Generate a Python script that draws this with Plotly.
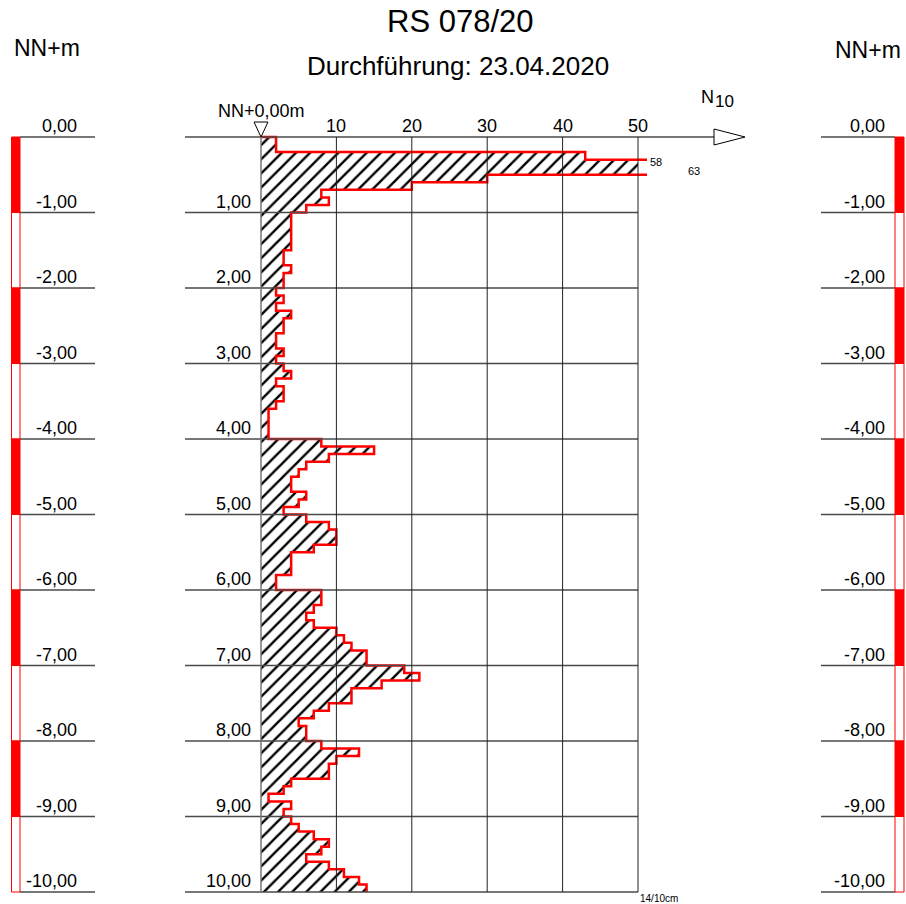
import plotly.graph_objects as go

# Dynamic probing RS 078/20 – blow counts N10 per 10 cm penetration
n10 = [2, 2, 43, 58, 63, 30, 20, 8, 9, 6,
       4, 4, 4, 4, 4, 3, 3, 4, 3, 3,
       2, 3, 2, 4, 3, 3, 2, 2, 3, 2,
       3, 4, 2, 3, 3, 2, 1, 1, 1, 1,
       8, 15, 9, 6, 5, 4, 4, 6, 5, 3,
       6, 9, 10, 10, 7, 4, 4, 4, 2, 2,
       8, 8, 7, 6, 7, 10, 11, 12, 14, 14,
       19, 21, 16, 12, 12, 9, 7, 5, 6, 6,
       8, 13, 10, 9, 9, 4, 3, 1, 4, 3,
       4, 5, 7, 9, 8, 6, 9, 11, 13, 14]
step_m = 0.1                      # depth increment per value
depth_levels = list(range(0, 11))  # metre lines 0 … 10
n10_ticks = [10, 20, 30, 40, 50]
n10_cap = 50                      # right edge of the diagram
ground_level = 0.0                # NN + m at the start point
title_text = "RS 078/20"
subtitle_text = "Durchführung: 23.04.2020"

W, H = 906, 904
FONT = "Liberation Sans, Arial, Helvetica, sans-serif"
RED = "#ff0000"
GRID = "#4a4a4a"

# scale of the main diagram (pixels per unit)
X0_PX, PX_PER_N = 261.0, 7.54
Y0_PX, PX_PER_M = 137.0, 75.5


def hx(px):
    return (px - X0_PX) / PX_PER_N


def hy(py):
    return (py - Y0_PX) / PX_PER_M


def fmt(v):
    return f"{v:.2f}".replace(".", ",")


over = hx(647)  # overshoot of clipped values beyond the cap

# ---- polygon for the hatched area and the red outline -------------------
fill_x, fill_y = [0.0], [0.0]
line_x, line_y = [0.0], [0.0]
clipped = []
prev_clip = False
for i, v in enumerate(n10):
    top, bot = i * step_m, (i + 1) * step_m
    xv = min(v, n10_cap)
    fill_x += [xv, xv]
    fill_y += [top, bot]
    if v > n10_cap:
        clipped.append((i, v))
        if not prev_clip:
            line_x += [over, None]
            line_y += [top, None]
        prev_clip = True
        continue
    if prev_clip:
        line_x += [over, v]
        line_y += [top, top]
        prev_clip = False
    else:
        line_x.append(v)
        line_y.append(top)
    line_x.append(v)
    line_y.append(bot)
fill_x += [0.0, 0.0]
fill_y += [len(n10) * step_m, 0.0]

fig = go.Figure()
fig.add_trace(go.Scatter(
    x=fill_x, y=fill_y, mode="lines", fill="toself",
    line=dict(width=0, color="rgba(0,0,0,0)"),
    fillcolor="white",
    fillpattern=dict(shape="/", size=10, solidity=0.24,
                     fgcolor="black", bgcolor="white", fgopacity=1),
    hoverinfo="skip", showlegend=False, xaxis="x", yaxis="y"))
fig.add_trace(go.Scatter(
    x=line_x, y=line_y, mode="lines",
    line=dict(color=RED, width=2.5, shape="linear"),
    connectgaps=False, hoverinfo="skip", showlegend=False,
    xaxis="x", yaxis="y"))

shapes = []
ann = []

# main diagram grid
shapes.append(dict(type="line", xref="x", yref="y", x0=hx(185), x1=hx(714),
                   y0=0, y1=0, line=dict(color=GRID, width=1.5)))
shapes.append(dict(type="path", xref="x", yref="y",
                   path=f"M {hx(714)},{hy(129)} L {hx(745)},0 L {hx(714)},{hy(145)} Z",
                   fillcolor="white", line=dict(color="black", width=1)))
for d in depth_levels[1:]:
    shapes.append(dict(type="line", xref="x", yref="y", x0=hx(185), x1=n10_cap,
                       y0=d, y1=d, line=dict(color=GRID, width=1.5)))
shapes.append(dict(type="line", xref="x", yref="y", x0=0, x1=0,
                   y0=0, y1=depth_levels[-1], line=dict(color="#777777", width=1.5)))
for t in n10_ticks:
    shapes.append(dict(type="line", xref="x", yref="y", x0=t, x1=t,
                       y0=0, y1=depth_levels[-1], line=dict(color="#222222", width=1)))
    ann.append(dict(x=t, y=0, xref="x", yref="y", text=str(t), showarrow=False,
                    xanchor="center", yanchor="bottom", yshift=-1,
                    font=dict(size=18, color="black", family=FONT)))
for d in depth_levels[1:]:
    ann.append(dict(x=hx(253), y=d, xref="x", yref="y", text=fmt(d), showarrow=False,
                    xanchor="right", yanchor="bottom", yshift=-1,
                    font=dict(size=18, color="black", family=FONT)))

# datum triangle and label
shapes.append(dict(type="path", xref="x", yref="y",
                   path=f"M {hx(254)},{hy(122)} L {hx(268)},{hy(122)} L 0,0 Z",
                   fillcolor="white", line=dict(color="black", width=1)))
ann.append(dict(x=0, y=hy(123), xref="x", yref="y",
                text=f"NN+{fmt(ground_level)}m", showarrow=False,
                xanchor="center", yanchor="bottom",
                font=dict(size=18, color="black", family=FONT)))

# axis title N10
ann.append(dict(x=hx(699), y=hy(97), xref="x", yref="y", text="N", showarrow=False,
                xanchor="left", yanchor="middle",
                font=dict(size=18, color="black", family=FONT)))
ann.append(dict(x=hx(713), y=hy(101), xref="x", yref="y", text="10", showarrow=False,
                xanchor="left", yanchor="middle",
                font=dict(size=17, color="black", family=FONT)))

# values beyond the diagram edge
for k, (i, v) in enumerate(clipped):
    ann.append(dict(x=hx(648) + 5.1 * k, y=i * step_m + 0.03 + 0.015 * k,
                    xref="x", yref="y", text=str(v), showarrow=False,
                    xanchor="left", yanchor="middle",
                    font=dict(size=11, color="black", family=FONT)))

# last value note
ann.append(dict(x=n10_cap, y=len(n10) * step_m, xref="x", yref="y",
                text=f"{n10[-1]}/10cm", showarrow=False,
                xanchor="left", yanchor="top", xshift=0, yshift=1,
                font=dict(size=10, color="black", family=FONT)))

# elevation scales on both sides
for axis, lx0, lx1, bx0, bx1, lab_x in (("x2", 20, 95, 11.5, 20, 79),
                                        ("x3", 821, 895, 895, 904, 887)):
    for d in depth_levels:
        shapes.append(dict(type="line", xref=axis, yref="y", x0=lx0, x1=lx1,
                           y0=d, y1=d, line=dict(color=GRID, width=1.5)))
        ann.append(dict(x=lab_x, y=d, xref=axis, yref="y",
                        text=fmt(ground_level - d), showarrow=False,
                        xanchor="right", yanchor="bottom", yshift=-1,
                        font=dict(size=18, color="black", family=FONT)))
    for d in depth_levels[:-1]:
        filled = d % 2 == 0
        shapes.append(dict(type="rect", xref=axis, yref="y", x0=bx0, x1=bx1,
                           y0=d, y1=d + 1,
                           fillcolor=RED if filled else "white",
                           line=dict(color=RED, width=1)))

ann.append(dict(x=12, y=hy(48), xref="x2", yref="y", text="NN+m", showarrow=False,
                xanchor="left", yanchor="middle",
                font=dict(size=23, color="black", family=FONT)))
ann.append(dict(x=833, y=hy(50), xref="x3", yref="y", text="NN+m", showarrow=False,
                xanchor="left", yanchor="middle",
                font=dict(size=23, color="black", family=FONT)))

# titles
ann.append(dict(x=460 / W, y=1 - 22 / H, xref="paper", yref="paper", text=title_text,
                showarrow=False, xanchor="center", yanchor="middle",
                font=dict(size=31, color="black", family=FONT)))
ann.append(dict(x=458 / W, y=1 - 66 / H, xref="paper", yref="paper", text=subtitle_text,
                showarrow=False, xanchor="center", yanchor="middle",
                font=dict(size=26, color="black", family=FONT)))

hidden = dict(visible=False, showgrid=False, zeroline=False, fixedrange=True)
fig.update_layout(
    width=W, height=H, margin=dict(l=0, r=0, t=0, b=0),
    paper_bgcolor="white", plot_bgcolor="rgba(0,0,0,0)",
    xaxis=dict(domain=[180 / W, 760 / W], range=[hx(180), hx(760)], **hidden),
    xaxis2=dict(domain=[0, 100 / W], range=[0, 100], anchor="y", **hidden),
    xaxis3=dict(domain=[810 / W, 1], range=[810, W], anchor="y", **hidden),
    yaxis=dict(domain=[0, 1], range=[hy(H), hy(0)], **hidden),
    shapes=shapes, annotations=ann, showlegend=False,
)
fig.write_html("out.html")
